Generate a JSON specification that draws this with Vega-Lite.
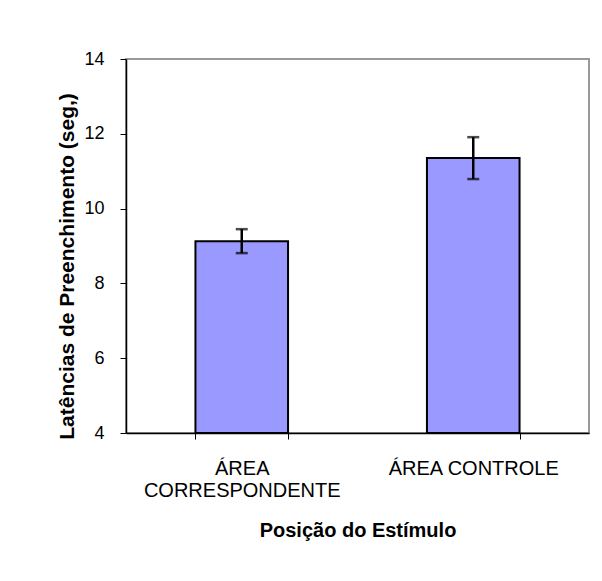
{
  "$schema": "https://vega.github.io/schema/vega-lite/v6.json",
  "width": 463,
  "height": 374,
  "autosize": {"type": "none"},
  "padding": {"left": 126, "top": 59, "right": 13, "bottom": 148},
  "background": "white",
  "config": {
    "font": "Liberation Sans",
    "view": {"stroke": "#999999", "strokeWidth": 2},
    "axis": {
      "domainColor": "black",
      "domainWidth": 1.5,
      "tickColor": "black",
      "tickWidth": 1,
      "labelColor": "black",
      "titleColor": "black",
      "labelFont": "Liberation Sans",
      "titleFont": "Liberation Sans",
      "labelFontSize": 18,
      "titleFontSize": 20,
      "titleFontWeight": "bold",
      "grid": false
    }
  },
  "data": {
    "values": [
      {"posicao": "ÁREA CORRESPONDENTE", "media": 9.13, "lo": 8.81, "hi": 9.45},
      {"posicao": "ÁREA CONTROLE", "media": 11.35, "lo": 10.79, "hi": 11.91}
    ]
  },
  "encoding": {
    "x": {
      "field": "posicao",
      "type": "nominal",
      "sort": null,
      "scale": {"paddingInner": 0.6, "paddingOuter": 0.3},
      "axis": {
        "title": "Posição do Estímulo",
        "labelAngle": 0,
        "labelFontSize": 20,
        "labelLimit": 0,
        "labelOverlap": false,
        "tickBand": "extent",
        "tickSize": 6,
        "labelPadding": 19,
        "labelLineHeight": 22,
        "titlePadding": 20,
        "labelExpr": "datum.value == 'ÁREA CORRESPONDENTE' ? ['ÁREA', 'CORRESPONDENTE'] : datum.label"
      }
    }
  },
  "layer": [
    {
      "mark": {"type": "bar", "fill": "#9999FF", "stroke": "black", "strokeWidth": 2},
      "encoding": {
        "y": {
          "field": "media",
          "type": "quantitative",
          "scale": {"domain": [4, 14], "zero": false, "nice": false},
          "axis": {
            "title": "Latências de Preenchimento (seg,)",
            "titleFontSize": 21,
            "titleY": 207,
            "values": [4, 6, 8, 10, 12, 14],
            "tickSize": 6,
            "labelPadding": 16,
            "titlePadding": 6
          }
        },
        "y2": {"datum": 4}
      }
    },
    {
      "mark": {"type": "rule", "color": "black", "strokeWidth": 2.5},
      "encoding": {
        "y": {"field": "lo", "type": "quantitative"},
        "y2": {"field": "hi"}
      }
    },
    {
      "mark": {"type": "tick", "color": "black", "thickness": 2.5, "size": 12, "orient": "horizontal"},
      "encoding": {
        "y": {"field": "lo", "type": "quantitative"}
      }
    },
    {
      "mark": {"type": "tick", "color": "black", "thickness": 2.5, "size": 12, "orient": "horizontal"},
      "encoding": {
        "y": {"field": "hi", "type": "quantitative"}
      }
    }
  ]
}
